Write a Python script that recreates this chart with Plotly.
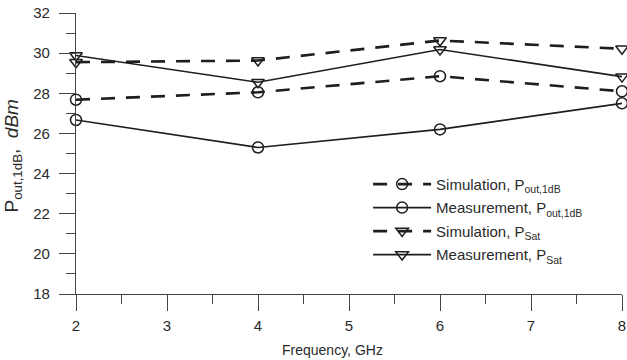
import plotly.graph_objects as go

freq = [2, 4, 6, 8]
sim_pout = [27.68, 28.05, 28.85, 28.1]
meas_pout = [26.67, 25.3, 26.2, 27.5]
sim_psat = [29.55, 29.63, 30.63, 30.22]
meas_psat = [29.88, 28.55, 30.18, 28.83]

x_ticks = [2, 3, 4, 5, 6, 7, 8]
y_ticks = [18, 20, 22, 24, 26, 28, 30, 32]

INK = "#1e1e1e"
TXT = "#2a2a2a"
FONT = "Liberation Sans, Arial, sans-serif"

fig = go.Figure()

def add(y, name, dashed, symbol, grp):
    fig.add_trace(go.Scatter(
        x=freq, y=y, name=name, mode="lines+markers", legendgroup=grp,
        line=dict(color=INK, width=2.6 if dashed else 1.6,
                  dash="14px,11px" if dashed else "solid"),
        marker=dict(symbol=symbol, size=11, color=INK,
                    line=dict(color=INK, width=1.5)),
        cliponaxis=False,
    ))

add(sim_pout, "Simulation, P<sub>out,1dB</sub>", True, "circle-open", "a")
add(meas_pout, "Measurement, P<sub>out,1dB</sub>", False, "circle-open", "b")
add(sim_psat, "Simulation, P<sub>Sat</sub>", True, "triangle-down-open", "c")
add(meas_psat, "Measurement, P<sub>Sat</sub>", False, "triangle-down-open", "d")

axis_common = dict(
    showgrid=False, zeroline=False, showline=True, linecolor="#444", linewidth=1.2,
    ticks="outside", ticklen=16, tickwidth=1.2, tickcolor="#444", automargin=False,
    tickfont=dict(family=FONT, size=15, color=TXT),
)

fig.update_xaxes(range=[2, 8], tickvals=x_ticks, ticktext=[str(v) for v in x_ticks],
                 minor=dict(dtick=0.5, ticks="outside", ticklen=9, tickwidth=1.2, tickcolor="#444"),
                 ticklabelstandoff=2, **axis_common)
fig.update_yaxes(range=[18, 32], tickvals=y_ticks, ticktext=[str(v) for v in y_ticks],
                 minor=dict(dtick=1, ticks="outside", ticklen=9, tickwidth=1.2, tickcolor="#444"),
                 ticklabelstandoff=6, **axis_common)

fig.update_layout(
    width=627, height=360,
    margin=dict(l=76, r=5, t=13, b=66),
    paper_bgcolor="white", plot_bgcolor="white",
    font=dict(family=FONT, color=TXT),
    showlegend=True,
    legend=dict(x=0.535, y=0.449, xanchor="left", yanchor="top", itemwidth=58,
                bgcolor="rgba(0,0,0,0)", font=dict(family=FONT, size=15, color=TXT),
                tracegroupgap=1),
    annotations=[
        dict(text="Frequency, GHz", xref="paper", yref="paper", x=0.47, y=-0.2,
             xanchor="center", yanchor="middle", showarrow=False,
             font=dict(family=FONT, size=14, color=TXT)),
        dict(text="P<sub>out,1dB</sub>,\u00a0\u00a0<i>dBm</i>", xref="paper", yref="paper",
             x=-0.115, y=0.49, textangle=-90, xanchor="center", yanchor="middle",
             showarrow=False, font=dict(family=FONT, size=19, color=TXT)),
    ],
)

fig.write_html("out.html", config={"displayModeBar": False},
               post_script="document.body.style.margin='0';")
